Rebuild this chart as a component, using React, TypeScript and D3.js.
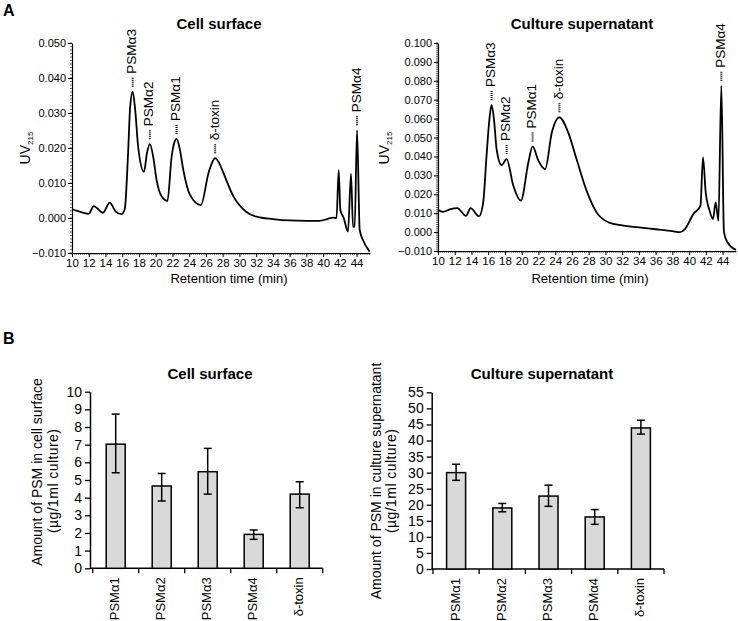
import React, { useEffect, useRef } from "react";
import * as d3 from "d3";

const FONT = "'Liberation Sans', Arial, Helvetica, sans-serif";

// chromatogram traces, [retention time (min), UV215]
const cellSurfaceTrace = [
  [10.0, 0.0025], [10.5, 0.0021], [11.2, 0.0016], [12.0, 0.0012], [12.6, 0.0034],
  [13.7, 0.0015], [14.5, 0.0044], [15.2, 0.0019], [15.9, 0.0011], [16.3, 0.0025],
  [16.7, 0.0185], [16.95, 0.0318], [17.25, 0.0361], [17.55, 0.0309], [17.9, 0.0204],
  [18.6, 0.0132], [18.95, 0.0185], [19.3, 0.0211], [19.7, 0.0175], [20.1, 0.0109],
  [20.7, 0.0062], [21.4, 0.0049], [21.9, 0.0175], [22.17, 0.0211], [22.5, 0.0226],
  [22.9, 0.0194], [23.3, 0.0137], [24.1, 0.0066], [25.4, 0.0037], [26.3, 0.0128],
  [26.7, 0.0156], [27.1, 0.0171], [27.6, 0.0156], [28.1, 0.0128], [29.3, 0.0061],
  [30.8, 0.0018], [32.0, 0.0004], [34.0, -0.0003], [36.0, -0.0007], [38.0, -0.0008],
  [39.6, -0.0008], [40.5, -0.0003], [41.2, 0.0001], [41.6, 0.0], [41.86, 0.0137],
  [42.06, 0.0023], [42.46, 0.0], [42.97, -0.0039], [43.33, 0.0126], [43.57, -0.0025],
  [43.77, -0.0025], [44.05, 0.0251], [44.37, -0.0034], [44.76, -0.0063], [45.56, -0.0096],
];

const supernatantTrace = [
  [10.0, 0.0118], [10.6, 0.0107], [11.4, 0.012], [12.3, 0.0127], [13.35, 0.0086],
  [13.9, 0.0127], [14.9, 0.0083], [15.4, 0.0157], [15.8, 0.0404], [16.15, 0.06],
  [16.4, 0.0672], [16.7, 0.059], [17.0, 0.0439], [17.6, 0.0354], [18.2, 0.0386],
  [19.0, 0.0245], [19.9, 0.0166], [20.8, 0.0369], [21.3, 0.0453], [22.0, 0.0377],
  [22.8, 0.0333], [23.6, 0.0527], [24.5, 0.0607], [25.55, 0.0527], [26.55, 0.0386],
  [27.75, 0.0219], [28.9, 0.0107], [30.4, 0.0051], [32.0, 0.0035], [34.0, 0.0025],
  [36.0, 0.0015], [38.0, 0.0005], [38.9, 0.0], [39.5, 0.0016], [40.5, 0.0095],
  [41.35, 0.0139], [41.66, 0.0395], [41.98, 0.021], [42.4, 0.012], [42.85, 0.0069],
  [43.17, 0.0157], [43.5, 0.006], [43.85, 0.0774], [44.16, 0.0], [44.6, -0.0055],
  [45.6, -0.0094],
];

// peak annotations: [label, time, peak height]
const cellSurfacePeaks = [
  ["PSMα3", 17.25, 0.0361], ["PSMα2", 19.3, 0.0211], ["PSMα1", 22.5, 0.0226],
  ["δ-toxin", 27.1, 0.0171], ["PSMα4", 44.05, 0.0251],
];
const supernatantPeaks = [
  ["PSMα3", 16.4, 0.0672], ["PSMα2", 18.2, 0.0386], ["PSMα1", 21.3, 0.0453],
  ["δ-toxin", 24.5, 0.0607], ["PSMα4", 43.85, 0.0774],
];

const timeTicks = d3.range(10, 45, 2);
const cellSurfaceUvTicks = d3.range(-0.01, 0.0501, 0.01);
const supernatantUvTicks = d3.range(-0.01, 0.1001, 0.01);

// bar charts
const psmNames = ["PSMα1", "PSMα2", "PSMα3", "PSMα4", "δ-toxin"];
const cellSurfaceAmount = [7.03, 4.66, 5.47, 1.92, 4.2];
const cellSurfaceLow = [5.41, 3.81, 4.2, 1.64, 3.43];
const cellSurfaceHigh = [8.73, 5.37, 6.79, 2.17, 4.9];
const supernatantAmount = [30.0, 19.0, 22.7, 16.2, 43.9];
const supernatantLow = [27.6, 17.8, 19.5, 13.9, 42.0];
const supernatantHigh = [32.6, 20.4, 26.1, 18.5, 46.3];

function drawTrace(svg, cfg) {
  const { trace, peaks, yMax, yTicks, left, right, top, bottom } = cfg;
  const x = d3.scaleLinear().domain([10, 45.6]).range([left, right]);
  const y = d3.scaleLinear().domain([-0.01, yMax]).range([bottom, top]);
  const g = svg.append("g");

  // minor ticks
  const minorX = d3.range(10, 45.6, 0.25);
  g.selectAll(".mx").data(minorX).enter().append("line")
    .attr("x1", (d) => x(d)).attr("x2", (d) => x(d))
    .attr("y1", bottom).attr("y2", bottom + 2)
    .attr("stroke", "black").attr("stroke-width", 0.6);
  const minorY = d3.range(-0.01, yMax + 0.0001, 0.001);
  g.selectAll(".my").data(minorY).enter().append("line")
    .attr("x1", left - 2).attr("x2", left)
    .attr("y1", (d) => y(d)).attr("y2", (d) => y(d))
    .attr("stroke", "black").attr("stroke-width", 0.6);

  const xAxis = g.append("g")
    .attr("transform", `translate(0,${bottom})`)
    .call(d3.axisBottom(x).tickValues(timeTicks).tickSize(4).tickPadding(2).tickSizeOuter(0));
  xAxis.selectAll("text").style("font-size", "11.5px").style("font-family", FONT);
  xAxis.select(".domain").attr("stroke-width", 1.2);

  const yAxis = g.append("g")
    .attr("transform", `translate(${left},0)`)
    .call(d3.axisLeft(y).tickValues(yTicks).tickFormat(d3.format(".3f")).tickSize(4).tickPadding(2).tickSizeOuter(0));
  yAxis.selectAll("text").style("font-size", "11px").style("font-family", FONT);
  yAxis.select(".domain").attr("stroke-width", 1.2);

  const line = d3.line().x((d) => x(d[0])).y((d) => y(d[1])).curve(d3.curveMonotoneX);
  g.append("path").datum(trace).attr("d", line)
    .attr("fill", "none").attr("stroke", "black").attr("stroke-width", 1.8);

  peaks.forEach(([name, t, v]) => {
    const px = x(t);
    const py = y(v);
    g.append("line")
      .attr("x1", px).attr("x2", px)
      .attr("y1", py - 5).attr("y2", py - 14)
      .attr("stroke", "black").attr("stroke-width", 2)
      .attr("stroke-dasharray", "1,1");
    g.append("text")
      .attr("x", px).attr("y", py - 18)
      .attr("transform", `rotate(-90,${px},${py - 18})`)
      .attr("dominant-baseline", "middle")
      .style("font-size", "13.5px").style("font-family", FONT)
      .text(name);
  });

  g.append("text")
    .attr("x", cfg.titleX).attr("y", 29)
    .attr("text-anchor", "middle")
    .style("font-size", "15px").style("font-weight", "bold").style("font-family", FONT)
    .text(cfg.title);

  g.append("text")
    .attr("x", cfg.xLabelX).attr("y", 283)
    .attr("text-anchor", "middle")
    .style("font-size", "13px").style("font-family", FONT)
    .text("Retention time (min)");

  const uv = g.append("text")
    .attr("transform", `translate(${cfg.uvX},${cfg.uvY}) rotate(-90)`)
    .attr("text-anchor", "middle")
    .style("font-size", "14px").style("font-family", FONT);
  uv.append("tspan").text("UV");
  uv.append("tspan").attr("dy", 3).style("font-size", "8px").text("215");
}

function drawBars(svg, cfg) {
  const { values, low, high, yMax, yStep, axisX, left, right, top, bottom } = cfg;
  const x = d3.scaleBand().domain(psmNames).range([left, right]).padding(0);
  const y = d3.scaleLinear().domain([0, yMax]).range([bottom, top]);
  const g = svg.append("g");
  const barW = 19;

  const yAxis = g.append("g")
    .attr("transform", `translate(${axisX},0)`)
    .call(d3.axisLeft(y).tickValues(d3.range(0, yMax + 0.1, yStep)).tickSize(5).tickPadding(3).tickSizeOuter(0));
  yAxis.selectAll("text").style("font-size", "14px").style("font-family", FONT);
  yAxis.select(".domain").attr("stroke-width", 1.5);
  yAxis.selectAll(".tick line").attr("stroke-width", 1.3);

  // x axis line with ticks at band boundaries
  g.append("line")
    .attr("x1", axisX).attr("x2", right)
    .attr("y1", bottom).attr("y2", bottom)
    .attr("stroke", "black").attr("stroke-width", 1.5);
  const bounds = psmNames.map((d) => x(d)).concat([right]);
  g.selectAll(".xb").data(bounds).enter().append("line")
    .attr("x1", (d) => d).attr("x2", (d) => d)
    .attr("y1", bottom).attr("y2", bottom + 5)
    .attr("stroke", "black").attr("stroke-width", 1.3);

  const cx = (d) => x(d) + x.bandwidth() / 2;
  g.selectAll(".bar").data(psmNames).enter().append("rect")
    .attr("x", (d) => cx(d) - barW / 2)
    .attr("y", (d, i) => y(values[i]))
    .attr("width", barW)
    .attr("height", (d, i) => bottom - y(values[i]))
    .attr("fill", "#d9d9d9").attr("stroke", "black").attr("stroke-width", 1.5);

  psmNames.forEach((d, i) => {
    const c = cx(d);
    g.append("line").attr("x1", c).attr("x2", c)
      .attr("y1", y(low[i])).attr("y2", y(high[i]))
      .attr("stroke", "black").attr("stroke-width", 1.5);
    [low[i], high[i]].forEach((v) => {
      g.append("line").attr("x1", c - 4).attr("x2", c + 4)
        .attr("y1", y(v)).attr("y2", y(v))
        .attr("stroke", "black").attr("stroke-width", 1.5);
    });
    g.append("text")
      .attr("transform", `translate(${c},${bottom + 9}) rotate(-90)`)
      .attr("text-anchor", "end")
      .attr("dominant-baseline", "middle")
      .style("font-size", "13px").style("font-family", FONT)
      .text(d);
  });

  g.append("text")
    .attr("x", cfg.titleX).attr("y", 379)
    .attr("text-anchor", "middle")
    .style("font-size", "15px").style("font-weight", "bold").style("font-family", FONT)
    .text(cfg.title);

  cfg.yLabel.forEach((txt, k) => {
    const t = g.append("text")
      .attr("transform", `translate(${cfg.yLabelX[k]},${cfg.yLabelY[k]}) rotate(-90)`)
      .attr("text-anchor", "middle")
      .attr("dominant-baseline", "middle")
      .style("font-size", "14px").style("font-family", FONT)
      .text(txt);
    if (k === 1) t.attr("textLength", 104).attr("lengthAdjust", "spacing");
  });
}

export default function App() {
  const svgRef = useRef(null);

  useEffect(() => {
    const svg = d3.select(svgRef.current);
    svg.selectAll("*").remove();

    svg.append("text").attr("x", 3).attr("y", 16)
      .style("font-size", "16px").style("font-weight", "bold").style("font-family", FONT).text("A");
    svg.append("text").attr("x", 3).attr("y", 344)
      .style("font-size", "16px").style("font-weight", "bold").style("font-family", FONT).text("B");

    drawTrace(svg, {
      trace: cellSurfaceTrace, peaks: cellSurfacePeaks, yMax: 0.05, yTicks: cellSurfaceUvTicks,
      left: 72, right: 370, top: 43, bottom: 253,
      title: "Cell surface", titleX: 219, xLabelX: 229, uvX: 30, uvY: 148,
    });
    drawTrace(svg, {
      trace: supernatantTrace, peaks: supernatantPeaks, yMax: 0.1, yTicks: supernatantUvTicks,
      left: 438, right: 736, top: 43, bottom: 251,
      title: "Culture supernatant", titleX: 582, xLabelX: 590, uvX: 389, uvY: 148,
    });

    drawBars(svg, {
      values: cellSurfaceAmount, low: cellSurfaceLow, high: cellSurfaceHigh,
      yMax: 10, yStep: 1, axisX: 90, left: 92.7, right: 322.7, top: 391.7, bottom: 568.3,
      title: "Cell surface", titleX: 210,
      yLabel: ["Amount of PSM in cell surface", "(µg/1ml culture)"], yLabelX: [38, 54], yLabelY: [472, 481],
    });
    drawBars(svg, {
      values: supernatantAmount, low: supernatantLow, high: supernatantHigh,
      yMax: 55, yStep: 5, axisX: 431.7, left: 433, right: 664, top: 392.3, bottom: 569,
      title: "Culture supernatant", titleX: 542,
      yLabel: ["Amount of PSM in culture supernatant", "(µg/1ml culture)"], yLabelX: [377, 392], yLabelY: [481, 481],
    });
  }, []);

  return (
    <div style={{ position: "absolute", left: 0, top: 0 }}>
      <svg ref={svgRef} width={738} height={621} style={{ display: "block", background: "white" }} />
    </div>
  );
}
